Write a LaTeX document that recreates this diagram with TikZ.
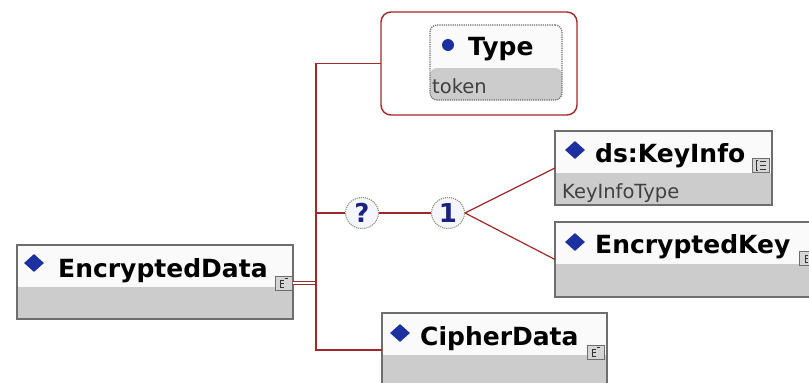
\documentclass[tikz,border=0pt]{standalone}
\usepackage{fontspec}
\setmainfont{DejaVu Sans}
\usetikzlibrary{shapes.geometric}

\definecolor{connred}{RGB}{160,40,40}
\definecolor{boxgray}{RGB}{110,110,110}
\definecolor{bandgray}{RGB}{204,204,204}
\definecolor{topfill}{RGB}{250,250,250}
\definecolor{markblue}{RGB}{28,48,160}
\definecolor{navy}{RGB}{26,35,126}
\definecolor{dotgreen}{RGB}{130,150,100}
\definecolor{plaintext}{RGB}{64,64,64}

\begin{document}
\begin{tikzpicture}[x=1pt,y=-1pt,
  elembox/.style={draw=boxgray, line width=1.2pt, fill=topfill, inner sep=0pt, outer sep=0pt,
    path picture={\fill[bandgray] (path picture bounding box.south west)
       rectangle ([yshift=#1]path picture bounding box.south east);}},
  elembox/.default=32pt,
  groupbox/.style={draw=connred, line width=1.4pt, fill=white, rounded corners=10pt,
    inner sep=0pt, outer sep=0pt},
  attrbox/.style={elembox=#1, draw=boxgray, densely dotted, rounded corners=7pt},
  elemtitle/.style={anchor=base west, inner sep=0pt, font=\bfseries\fontsize{25}{25}\selectfont},
  typename/.style={anchor=base west, inner sep=0pt, text=plaintext, font=\fontsize{19.5}{20}\selectfont},
  elmark/.style={diamond, fill=markblue, inner sep=0pt, minimum width=20pt, minimum height=18pt},
  attrmark/.style={circle, fill=markblue, inner sep=0pt, minimum size=12pt},
  badge/.style={draw=boxgray, line width=1pt, fill=bandgray!80, inner sep=0pt,
    minimum width=17pt, minimum height=14pt},
  glyph/.style={draw=black!80, line width=1pt},
  compositor/.style={ellipse, draw=dotgreen, densely dotted, line width=1.1pt, fill=blue!4,
    minimum width=33pt, minimum height=31pt, inner sep=0pt, text=navy,
    font=\bfseries\fontsize{26}{26}\selectfont},
  conn/.style={draw=connred, line width=1.6pt},
]
\useasboundingbox (0,0) rectangle (809,383);
\clip (0,0) rectangle (809,383);

% element boxes
\node[elembox, minimum width=276pt, minimum height=74pt] (ed) at (155,282) {};
\node[groupbox, minimum width=196pt, minimum height=103pt] (typeouter) at (479,63.5) {};
\node[attrbox=32pt, minimum width=132pt, minimum height=75pt] (typeinner) at (496,62.5) {};
\node[elembox, minimum width=217pt, minimum height=74pt] (keyinfo) at (663.5,168) {};
\node[elembox=33pt, minimum width=265pt, minimum height=75pt] (enckey) at (687.5,259.5) {};
\node[elembox, minimum width=225pt, minimum height=74pt] (cipher) at (494.5,350) {};

% markers and titles
\node[elmark] (ed-mark) at (34,263) {};
\node[elemtitle] (ed-title) at (58,277) {EncryptedData};
\node[attrmark] (type-mark) at (448,45) {};
\node[elemtitle] (type-title) at (468,55) {Type};
\node[typename] (type-type) at (432,93) {token};
\node[elmark] (ki-mark) at (575,150) {};
\node[elemtitle] (ki-title) at (595,162) {ds:KeyInfo};
\node[typename] (ki-type) at (562,198) {KeyInfoType};
\node[elmark] (ek-mark) at (575,242) {};
\node[elemtitle] (ek-title) at (595,253) {EncryptedKey};
\node[elmark] (cd-mark) at (400,333) {};
\node[elemtitle] (cd-title) at (420,345) {CipherData};

% expand badges
\node[badge] (ed-icon) at (283.5,283) {};
\node[badge] (ki-icon) at (761,165) {};
\node[badge] (ek-icon) at (808,258) {};
\node[badge] (cd-icon) at (595.5,352.5) {};
\foreach \b in {ed-icon,ek-icon,cd-icon}{
  \draw[glyph] ([shift={(0pt,3pt)}]\b.center) -- ++(-3pt,0pt) -- ++(0pt,-7pt) -- ++(3pt,0pt);
  \draw[glyph] ([shift={(-3pt,0pt)}]\b.center) -- ++(3pt,0pt);
  \draw[glyph, line width=0.7pt] ([shift={(1pt,5pt)}]\b.center) -- ++(3pt,0pt);
}
\draw[glyph] ([shift={(-3pt,5pt)}]ki-icon.center) -- ++(-2pt,0pt) -- ++(0pt,-10pt) -- ++(2pt,0pt);
\foreach \dy in {4pt,0pt,-4pt}
  \draw[glyph, line width=0.8pt] ([shift={(-1pt,\dy)}]ki-icon.center) -- ++(6pt,0pt);

% compositors
\node[compositor] (q) at (362,213) {?};
\node[compositor] (one) at (448,213) {1};

% connectors
\coordinate (trunk) at (316,283);
\draw[conn, double=white, double distance=2.5pt, line width=1.1pt] (ed-icon.east) -- (trunk);
\draw[conn] (typeouter.west) -| (trunk) |- (cipher.west);
\draw[conn] (q.west -| trunk) -- (q.west);
\draw[conn] (q.east) -- (one.west);
\draw[conn, line width=1.2pt] (one.east) -- (keyinfo.west);
\draw[conn, line width=1.2pt] (one.east) -- (enckey.west);
\end{tikzpicture}
\end{document}
